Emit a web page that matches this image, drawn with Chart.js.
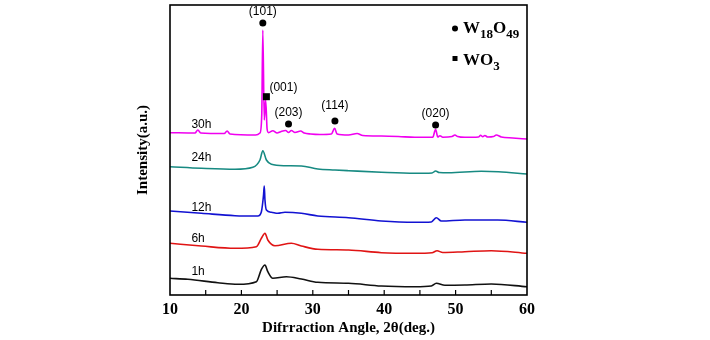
<!DOCTYPE html>
<html>
<head>
<meta charset="utf-8">
<script src="https://cdn.jsdelivr.net/npm/chart.js@4.4.1/dist/chart.umd.min.js"></script>
<style>
  html, body { margin: 0; padding: 0; background: #fff; }
  #box { width: 710px; height: 340px; }
</style>
</head>
<body>
<div id="box"><canvas id="xrd"></canvas></div>
<script>
// diffraction angle (2θ) and intensity, one pair of arrays per sample
const xs1h = [10, 12.5, 16.7, 19.5, 22.1, 22.8, 23.3, 23.7, 24.4, 26.3, 28.4, 30.7, 35, 39.6, 44.3, 46.6, 47.3, 48.5, 51.3, 55, 60];
const ys1h = [16.7, 15.7, 12.3, 10.7, 13.3, 25.7, 30, 23.3, 16.7, 18.3, 16, 12.7, 11.7, 9, 8.3, 9, 11.7, 9.7, 10, 11, 8.3];

const xs6h = [10, 14.4, 19.1, 22.1, 22.8, 23.3, 23.7, 24.7, 27.0, 28.4, 30.7, 35, 39.6, 44.3, 46.7, 47.4, 48.2, 51.3, 55, 60];
const ys6h = [51.7, 49, 46.7, 48.3, 56.7, 61.7, 55, 49.3, 51.7, 49, 45.7, 45, 42.3, 41.7, 42.2, 44.3, 42.5, 43.3, 44.3, 41.7];

const xs12h = [10, 14.4, 19.1, 22.3, 22.8, 23.1, 23.2, 23.3, 23.5, 24.2, 25.1, 26.1, 28.4, 30.7, 35, 39.6, 44.3, 46.6, 47.3, 48, 51.3, 55.9, 60];
const ys12h = [84, 81.7, 79.3, 79, 83.3, 100, 109, 95, 85, 82.7, 81.7, 82.7, 81.7, 79, 77.3, 74, 72.7, 73, 77.3, 74, 75, 75, 72.7];

const xs24h = [10, 14.4, 19.1, 21.6, 22.6, 23.0, 23.5, 24.2, 26.1, 28.4, 30.7, 33.1, 35, 39.6, 44.3, 46.7, 47.2, 47.7, 49, 53.6, 56, 60];
const ys24h = [128.3, 126.7, 125.7, 127.7, 135, 144.3, 135, 130.7, 129.3, 129, 126, 125, 124.3, 122.7, 121.7, 122, 124, 122.5, 122.3, 123.7, 123.3, 121];

const xs30h = [10, 13.5, 13.9, 14.3, 17.6, 18.0, 18.4, 22.0, 22.6, 22.85, 23.0, 23.2, 23.4, 23.6, 23.8, 24.4, 25.0, 25.5, 26.2, 26.6, 27.0, 27.5, 28.3, 28.8, 29.7, 31,
  32.6, 33.06, 33.4, 35, 36.2, 37, 39.6, 42, 44.3, 46.8, 47.2, 47.5, 47.8, 48.2, 49.5, 49.9, 50.3, 51.3, 53.2, 53.5, 53.8, 54.1, 54.5, 55.3, 55.7, 56.4, 58, 60];
const ys30h = [162.3, 162, 165, 162, 161.5, 164, 161, 160, 162, 180, 265, 175, 195, 166, 162.3, 164.3, 162, 163.3, 164.5, 162.5, 164.5, 162.5, 164, 162, 161, 160.5,
  161, 166.7, 161, 160, 161.5, 159.5, 159, 158.5, 157.7, 157.7, 165.7, 158, 159.3, 157.8, 158.5, 160, 158.5, 157.7, 158, 159.7, 158.3, 159.5, 158, 158.5, 160, 158, 157, 156];

const sampleNames = ['1h', '6h', '12h', '24h', '30h'];

// indexed peaks
const peakLabels = ['(101)', '(001)', '(203)', '(114)', '(020)'];
const peakAngles = [23.0, 23.5, 26.6, 33.1, 47.2];
const peakHeights = [272, 198.3, 171, 174, 170];
const peakPhases = ['W18O49', 'WO3', 'W18O49', 'W18O49', 'W18O49'];

const tickValues = [10, 20, 30, 40, 50, 60];

function pairs(xs, ys) {
    return xs.map((x, i) => ({ x: x, y: ys[i] }));
}

const lineColors = ['#111111', '#e01414', '#1212d2', '#178a82', '#f000f0'];
const allXs = [xs1h, xs6h, xs12h, xs24h, xs30h];
const allYs = [ys1h, ys6h, ys12h, ys24h, ys30h];

const datasets = sampleNames.map((name, i) => ({
    label: name,
    data: pairs(allXs[i], allYs[i]),
    borderColor: lineColors[i],
    borderWidth: 1.6,
    pointRadius: 0,
    cubicInterpolationMode: 'monotone',
    fill: false
}));

// box, inward ticks, peak marks, legend, sample labels
const decorations = {
    id: 'decorations',
    afterDatasetsDraw(chart) {
        const ctx = chart.ctx;
        const a = chart.chartArea;
        const xs = chart.scales.x;
        const ys = chart.scales.y;
        ctx.save();

        ctx.strokeStyle = '#000';
        ctx.lineWidth = 1.6;
        ctx.strokeRect(a.left, a.top, a.right - a.left, a.bottom - a.top);

        ctx.lineWidth = 1.2;
        for (let v = 15; v < 60; v += 5) {
            const px = xs.getPixelForValue(v);
            ctx.beginPath();
            ctx.moveTo(px, a.bottom);
            ctx.lineTo(px, a.bottom - 5);
            ctx.stroke();
        }

        // peak markers + hkl labels
        ctx.fillStyle = '#000';
        ctx.font = '12px "Liberation Sans", Arial, sans-serif';
        peakLabels.forEach((lab, i) => {
            const px = xs.getPixelForValue(peakAngles[i]);
            const py = ys.getPixelForValue(peakHeights[i]);
            if (peakPhases[i] === 'WO3') {
                ctx.fillRect(px - 3.5, py - 3.5, 7, 7);
                ctx.textAlign = 'left';
                ctx.textBaseline = 'middle';
                ctx.fillText(lab, px + 3, py - 9);
            } else {
                ctx.beginPath();
                ctx.arc(px, py, 3.5, 0, Math.PI * 2);
                ctx.fill();
                ctx.textAlign = 'center';
                ctx.textBaseline = 'middle';
                ctx.fillText(lab, px, py - (i === 3 ? 15 : 11));
            }
        });

        // sample names just above each curve's start
        const labelOffsets = [7, 5, 3, 9, 8];
        ctx.textAlign = 'left';
        ctx.textBaseline = 'middle';
        sampleNames.forEach((name, i) => {
            const py = ys.getPixelForValue(allYs[i][0]) - labelOffsets[i];
            ctx.fillText(name, xs.getPixelForValue(13.0), py);
        });

        // phase legend
        const lx = 455, tx = 463;
        ctx.beginPath();
        ctx.arc(lx, 28.5, 3, 0, Math.PI * 2);
        ctx.fill();
        ctx.fillRect(lx - 2.5, 56, 5, 5);
        ctx.textBaseline = 'alphabetic';
        function chem(parts, x, y) {
            parts.forEach(p => {
                ctx.font = p.sub ? 'bold 13px "Liberation Serif", serif' : 'bold 17px "Liberation Serif", serif';
                const yy = p.sub ? y + 5 : y;
                ctx.fillText(p.t, x, yy);
                x += ctx.measureText(p.t).width;
            });
        }
        chem([{ t: 'W' }, { t: '18', sub: true }, { t: 'O' }, { t: '49', sub: true }], tx, 33);
        chem([{ t: 'WO' }, { t: '3', sub: true }], tx, 65);

        ctx.restore();
    }
};

new Chart(document.getElementById('xrd'), {
    type: 'line',
    data: { datasets: datasets },
    options: {
        responsive: true,
        maintainAspectRatio: false,
        animation: false,
        layout: { padding: { left: 134, right: 183, top: 5, bottom: 3 } },
        plugins: {
            legend: { display: false },
            tooltip: { enabled: false }
        },
        scales: {
            x: {
                type: 'linear',
                min: 10,
                max: 60,
                afterBuildTicks: (scale) => { scale.ticks = tickValues.map(v => ({ value: v })); },
                afterFit: (scale) => { scale.height = 42; },
                grid: { display: false },
                border: { display: false },
                ticks: {
                    padding: -3,
                    color: '#000',
                    font: { family: '"Liberation Serif", "Times New Roman", serif', size: 16, weight: 'bold' }
                },
                title: {
                    display: true,
                    text: 'Difrraction Angle, 2θ(deg.)',
                    color: '#000',
                    padding: 0,
                    font: { family: '"Liberation Serif", "Times New Roman", serif', size: 15, weight: 'bold' }
                }
            },
            y: {
                min: 0,
                max: 290,
                afterFit: (scale) => { scale.width = 36; },
                grid: { display: false },
                border: { display: false },
                ticks: { display: false },
                title: {
                    display: true,
                    text: 'Intensity(a.u.)',
                    color: '#000',
                    padding: 0,
                    font: { family: '"Liberation Serif", "Times New Roman", serif', size: 15, weight: 'bold' }
                }
            }
        }
    },
    plugins: [decorations]
});
</script>
</body>
</html>
